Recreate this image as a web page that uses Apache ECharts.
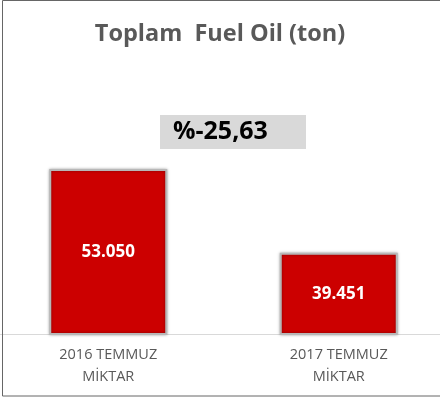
<!DOCTYPE html>
<html>
<head>
<meta charset="utf-8">
<script src="https://cdn.jsdelivr.net/npm/echarts@6/dist/echarts.min.js"></script>
<style>
  html, body { margin: 0; padding: 0; background: #fff; }
  #chart { width: 440px; height: 403px; }
</style>
</head>
<body>
<div id="chart"></div>
<script>
// veriler
var categories = ["2016 TEMMUZ\nMİKTAR", "2017 TEMMUZ\nMİKTAR"];
var values = [53050, 39451];
var valueLabels = ["53.050", "39.451"];
var changeText = "%-25,63";

var myChart = echarts.init(document.getElementById("chart"));
myChart.setOption({
  animation: false,
  textStyle: { fontFamily: "'Open Sans', sans-serif" },
  title: {
    text: "Toplam  Fuel Oil (ton)",
    left: "center",
    top: 17,
    textStyle: { fontSize: 23.5, fontWeight: "bold", color: "#595959", fontFamily: "'Open Sans', sans-serif" }
  },
  grid: { left: -7, right: -14, top: 60, bottom: 69, outerBoundsMode: "none" },
  xAxis: {
    type: "category",
    data: categories,
    axisLine: { lineStyle: { color: "#d9d9d9", width: 1 } },
    axisTick: { show: false },
    axisLabel: {
      color: "#595959",
      fontSize: 14.5,
      lineHeight: 22,
      margin: 10
    }
  },
  yAxis: {
    type: "value",
    min: 26300,
    max: 70700,
    show: false,
    splitLine: { show: false }
  },
  series: [
    {
      type: "bar",
      data: values,
      barWidth: 118,
      itemStyle: {
        color: "#cc0000",
        borderColor: "#b8b8b8",
        borderWidth: 2,
        shadowBlur: 3,
        shadowColor: "rgba(0,0,0,0.35)"
      },
      label: {
        show: true,
        position: "inside",
        formatter: function (p) { return valueLabels[p.dataIndex]; },
        color: "#fff",
        fontSize: 17,
        fontWeight: "bold"
      }
    }
  ],
  graphic: [
    {
      type: "rect",
      shape: { x: 2.5, y: 0.5, width: 460, height: 395.5 },
      style: { fill: "none", stroke: "#666", lineWidth: 1 },
      z: 100
    },
    {
      type: "rect",
      shape: { x: 160, y: 115, width: 146, height: 34 },
      style: { fill: "#d9d9d9" }
    },
    {
      type: "text",
      x: 173,
      y: 132,
      style: {
        text: changeText,
        fill: "#000",
        font: "bold 25px 'Open Sans', sans-serif",
        textVerticalAlign: "middle"
      }
    }
  ]
});
window.addEventListener("resize", function () {
  myChart.resize();
});
</script>
</body>
</html>
